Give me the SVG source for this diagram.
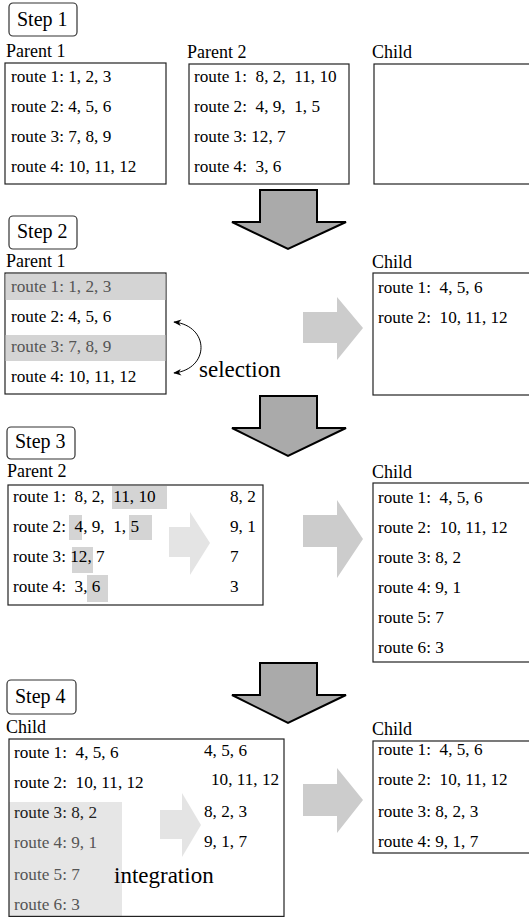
<svg xmlns="http://www.w3.org/2000/svg" width="529" height="918" viewBox="0 0 529 918" xml:space="preserve" font-family="'Liberation Serif', 'DejaVu Serif', serif">
<style>
text{font-family:'Liberation Serif','DejaVu Serif',serif;white-space:pre;fill:#000}
.r{font-size:17.2px}
.lbl{font-size:18px}
.stp{font-size:20px}
.big{font-size:23px}
.g{fill:#555}
.box{fill:#fff;stroke:#222;stroke-width:1.2}
.sbox{fill:#fff;stroke:#333;stroke-width:1.2}
.hl{fill:#d4d4d4}
.hl2{fill:#e6e6e6}
.down{fill:#aaa;stroke:#000;stroke-width:2;stroke-linejoin:miter}
.right{fill:#cccccc}
.inner{fill:#e4e4e4}
</style>
<defs>
<marker id="ah" viewBox="0 0 10 10" refX="9" refY="5" markerWidth="8" markerHeight="8" orient="auto-start-reverse" markerUnits="userSpaceOnUse">
<path d="M0,1 L10,5 L0,9 L3,5 Z" fill="#000"/>
</marker>
</defs>
<rect width="529" height="918" fill="#fff"/>

<!-- Step 1 -->
<g id="step1">
<rect class="sbox" x="9" y="3" width="68" height="33" rx="4"/>
<text class="stp" x="17" y="26">Step 1</text>
</g>
<g id="s1-parent1">
<text class="lbl" x="6" y="57">Parent 1</text>
<rect class="box" x="5" y="63" width="161" height="121"/>
<text class="r" x="11" y="82">route 1: 1, 2, 3</text>
<text class="r" x="11" y="112">route 2: 4, 5, 6</text>
<text class="r" x="11" y="142">route 3: 7, 8, 9</text>
<text class="r" x="11" y="172">route 4: 10, 11, 12</text>
</g>
<g id="s1-parent2">
<text class="lbl" x="187" y="58">Parent 2</text>
<rect class="box" x="189" y="64" width="160" height="120"/>
<text class="r" x="194" y="82">route 1:  8, 2,  11, 10</text>
<text class="r" x="194" y="112">route 2:  4, 9,  1, 5</text>
<text class="r" x="194" y="142">route 3: 12, 7</text>
<text class="r" x="194" y="172">route 4:  3, 6</text>
</g>
<g id="s1-child">
<text class="lbl" x="372" y="58">Child</text>
<rect class="box" x="374" y="64" width="170" height="120"/>
</g>

<!-- Step 2 -->
<g id="step2">
<rect class="sbox" x="9" y="216" width="68" height="33" rx="4"/>
<text class="stp" x="17" y="238">Step 2</text>
</g>
<g id="s2-parent1">
<text class="lbl" x="6" y="267">Parent 1</text>
<rect class="box" x="5" y="273" width="161" height="121"/>
<rect class="hl" x="5.6" y="274" width="159.8" height="26"/>
<rect class="hl" x="5.6" y="335" width="159.8" height="26"/>
<text class="r g" x="11" y="292">route 1: 1, 2, 3</text>
<text class="r" x="11" y="322">route 2: 4, 5, 6</text>
<text class="r g" x="11" y="352">route 3: 7, 8, 9</text>
<text class="r" x="11" y="382">route 4: 10, 11, 12</text>
<text class="big" x="199" y="377">selection</text>
</g>
<g id="s2-child">
<text class="lbl" x="372" y="268">Child</text>
<rect class="box" x="373" y="273" width="170" height="122"/>
<text class="r" x="378" y="293">route 1:  4, 5, 6</text>
<text class="r" x="378" y="323">route 2:  10, 11, 12</text>
</g>

<!-- Step 3 -->
<g id="step3">
<rect class="sbox" x="7" y="427" width="68" height="32" rx="4"/>
<text class="stp" x="15" y="448">Step 3</text>
</g>
<g id="s3-parent2">
<text class="lbl" x="7" y="477">Parent 2</text>
<rect class="box" x="8" y="485" width="255" height="120"/>
<rect class="hl" x="112" y="486" width="55" height="23"/>
<rect class="hl" x="69" y="515" width="13" height="25"/>
<rect class="hl" x="129" y="515" width="23" height="25"/>
<rect class="hl" x="72" y="547" width="21" height="26"/>
<rect class="hl" x="87" y="575" width="21" height="27"/>
<text class="r" x="13" y="502">route 1:  8, 2,  11, 10</text>
<text class="r" x="13" y="532">route 2:  4, 9,  1, 5</text>
<text class="r" x="13" y="562">route 3: 12, 7</text>
<text class="r" x="13" y="592">route 4:  3, 6</text>
<path class="inner" d="M169,527 H190 V512 L210,543 L190,575 V557 H169 Z"/>
<text class="r" x="230" y="502">8, 2</text>
<text class="r" x="230" y="532">9, 1</text>
<text class="r" x="230" y="562">7</text>
<text class="r" x="230" y="592">3</text>
</g>
<g id="s3-child">
<text class="lbl" x="372" y="478">Child</text>
<rect class="box" x="373" y="483" width="170" height="179"/>
<text class="r" x="378" y="503">route 1:  4, 5, 6</text>
<text class="r" x="378" y="533">route 2:  10, 11, 12</text>
<text class="r" x="378" y="563">route 3: 8, 2</text>
<text class="r" x="378" y="593">route 4: 9, 1</text>
<text class="r" x="378" y="623">route 5: 7</text>
<text class="r" x="378" y="653">route 6: 3</text>
</g>

<!-- Step 4 -->
<g id="step4">
<rect class="sbox" x="7" y="680" width="69" height="34" rx="4"/>
<text class="stp" x="15" y="703">Step 4</text>
</g>
<g id="s4-child">
<text class="lbl" x="6" y="733">Child</text>
<rect class="hl2" x="9" y="802" width="113" height="115"/>
<rect x="9" y="739" width="275" height="177.4" fill="none" stroke="#222" stroke-width="1.2"/>
<text class="r" x="14" y="758">route 1:  4, 5, 6</text>
<text class="r" x="14" y="788">route 2:  10, 11, 12</text>
<text class="r" x="14" y="818" style="fill:#222">route 3: 8, 2</text>
<text class="r g" x="14" y="848">route 4: 9, 1</text>
<text class="r g" x="14" y="880">route 5: 7</text>
<text class="r g" x="14" y="910">route 6: 3</text>
<path class="inner" d="M160,810 H182 V793 L201,825 L182,857 V839 H160 Z"/>
<text class="r" x="204" y="756">4, 5, 6</text>
<text class="r" x="211" y="785">10, 11, 12</text>
<text class="r" x="204" y="817">8, 2, 3</text>
<text class="r" x="204" y="847">9, 1, 7</text>
<text class="big" x="114" y="883">integration</text>
</g>
<g id="s4-result">
<text class="lbl" x="372" y="735">Child</text>
<rect class="box" x="373" y="741" width="170" height="112"/>
<text class="r" x="378" y="755">route 1:  4, 5, 6</text>
<text class="r" x="378" y="785">route 2:  10, 11, 12</text>
<text class="r" x="378" y="817">route 3: 8, 2, 3</text>
<text class="r" x="378" y="847">route 4: 9, 1, 7</text>
</g>

<!-- connectors -->
<g id="connectors">
<path class="down" d="M260,190 H317 V222 H346 L288,249 L232,222 H260 Z"/>
<path class="down" d="M260,396 H317 V428 H346 L288,456 L232,428 H260 Z"/>
<path class="down" d="M260,663 H317 V695 H346 L288,723 L232,695 H260 Z"/>
<path class="right" d="M303,312 H337 V297 L363,328 L337,360 V343 H303 Z"/>
<path class="right" d="M303,515 H337 V500 L363,539 L337,578 V547 H303 Z"/>
<path class="right" d="M303,784 H337 V768 L363,800 L337,833 V816 H303 Z"/>
<path d="M174,322 C210,326 210,369 174,373" fill="none" stroke="#000" stroke-width="1" marker-start="url(#ah)" marker-end="url(#ah)"/>
</g>
</svg>
